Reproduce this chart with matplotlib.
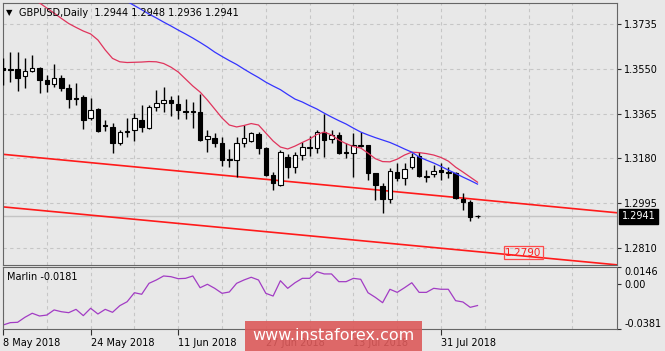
import numpy as np
import matplotlib
matplotlib.use("Agg")
import matplotlib.pyplot as plt
import matplotlib.transforms as mtransforms
from matplotlib.patches import Rectangle

plt.rcParams['font.family'] = ['DejaVu Sans']
plt.rcParams['font.size'] = 7

# GBPUSD daily bars, 8 May 2018 .. 7 Aug 2018
opens = [1.3553, 1.3548, 1.3548, 1.3520, 1.3542, 1.3555, 1.3504, 1.3486, 1.3513, 1.3469,
         1.3429, 1.3434, 1.3346, 1.3384, 1.3316, 1.3310, 1.3244, 1.3289, 1.3297, 1.3339,
         1.3304, 1.3392, 1.3410, 1.3423, 1.3403, 1.3376, 1.3374, 1.3373, 1.3259, 1.3263,
         1.3245, 1.3176, 1.3173, 1.3242, 1.3253, 1.3279, 1.3222, 1.3111, 1.3070, 1.3184,
         1.3146, 1.3194, 1.3226, 1.3222, 1.3288, 1.3259, 1.3277, 1.3205, 1.3201, 1.3233,
         1.3235, 1.3118, 1.3066, 1.3014, 1.3125, 1.3098, 1.3144, 1.3190, 1.3103, 1.3116,
         1.3132, 1.3125, 1.3118, 1.3012, 1.3001, 1.2944]
highs = [1.3595, 1.3619, 1.3619, 1.3595, 1.3607, 1.3559, 1.3524, 1.3569, 1.3524, 1.3486,
         1.3490, 1.3442, 1.3431, 1.3389, 1.3339, 1.3325, 1.3297, 1.3347, 1.3366, 1.3400,
         1.3400, 1.3462, 1.3473, 1.3438, 1.3440, 1.3425, 1.3414, 1.3446, 1.3297, 1.3284,
         1.3270, 1.3217, 1.3270, 1.3316, 1.3290, 1.3290, 1.3227, 1.3124, 1.3215, 1.3198,
         1.3206, 1.3249, 1.3274, 1.3297, 1.3365, 1.3297, 1.3289, 1.3242, 1.3285, 1.3290,
         1.3237, 1.3120, 1.3080, 1.3139, 1.3160, 1.3160, 1.3204, 1.3208, 1.3132, 1.3153,
         1.3160, 1.3146, 1.3125, 1.3038, 1.3008, 1.2948]
lows = [1.3483, 1.3495, 1.3458, 1.3471, 1.3537, 1.3451, 1.3455, 1.3476, 1.3458, 1.3389,
        1.3400, 1.3301, 1.3339, 1.3290, 1.3293, 1.3201, 1.3235, 1.3268, 1.3250, 1.3290,
        1.3300, 1.3376, 1.3373, 1.3355, 1.3343, 1.3343, 1.3304, 1.3254, 1.3208, 1.3227,
        1.3149, 1.3146, 1.3104, 1.3228, 1.3249, 1.3198, 1.3109, 1.3049, 1.3066, 1.3099,
        1.3118, 1.3172, 1.3190, 1.3202, 1.3187, 1.3242, 1.3197, 1.3180, 1.3102, 1.3228,
        1.3091, 1.3008, 1.2956, 1.2996, 1.3085, 1.3070, 1.3136, 1.3104, 1.3084, 1.3104,
        1.3091, 1.3098, 1.3014, 1.2967, 1.2923, 1.2936]
closes = [1.3547, 1.3545, 1.3513, 1.3541, 1.3555, 1.3504, 1.3486, 1.3513, 1.3472, 1.3425,
          1.3425, 1.3339, 1.3380, 1.3293, 1.3312, 1.3244, 1.3289, 1.3292, 1.3347, 1.3311,
          1.3392, 1.3410, 1.3423, 1.3407, 1.3380, 1.3372, 1.3370, 1.3256, 1.3274, 1.3245,
          1.3173, 1.3172, 1.3242, 1.3263, 1.3284, 1.3223, 1.3111, 1.3080, 1.3208, 1.3143,
          1.3194, 1.3229, 1.3222, 1.3288, 1.3257, 1.3277, 1.3201, 1.3202, 1.3235, 1.3237,
          1.3118, 1.3070, 1.3012, 1.3129, 1.3099, 1.3138, 1.3187, 1.3107, 1.3106, 1.3129,
          1.3123, 1.3118, 1.3015, 1.3001, 1.2939, 1.2941]

# moving averages (red one for every bar, blue one from bar 16)
red_ma = [1.3925, 1.3904, 1.3884, 1.3863, 1.3842, 1.3822, 1.3801, 1.3780, 1.3758, 1.3737,
          1.3721, 1.3706, 1.3694, 1.3669, 1.3628, 1.3593, 1.3579, 1.3576, 1.3577, 1.3578,
          1.3580, 1.3579, 1.3572, 1.3557, 1.3537, 1.3508, 1.3479, 1.3454, 1.3421, 1.3384,
          1.3347, 1.3318, 1.3310, 1.3316, 1.3324, 1.3318, 1.3285, 1.3252, 1.3227, 1.3219,
          1.3231, 1.3246, 1.3260, 1.3279, 1.3289, 1.3277, 1.3256, 1.3241, 1.3229, 1.3223,
          1.3202, 1.3179, 1.3167, 1.3166, 1.3177, 1.3194, 1.3206, 1.3204, 1.3200, 1.3194,
          1.3184, 1.3169, 1.3144, 1.3124, 1.3103, 1.3082]
blue_start = 16
blue_ma = [1.3847, 1.3828, 1.3811, 1.3794, 1.3776, 1.3760, 1.3743, 1.3727, 1.3710, 1.3694,
           1.3677, 1.3659, 1.3640, 1.3619, 1.3601, 1.3584, 1.3568, 1.3549, 1.3531, 1.3514,
           1.3495, 1.3479, 1.3464, 1.3444, 1.3425, 1.3413, 1.3398, 1.3384, 1.3367, 1.3351,
           1.3336, 1.3322, 1.3305, 1.3289, 1.3277, 1.3266, 1.3256, 1.3246, 1.3233, 1.3219,
           1.3206, 1.3186, 1.3173, 1.3161, 1.3147, 1.3132, 1.3118, 1.3103, 1.3089, 1.3074]

marlin = [-0.0345, -0.0325, -0.0322, -0.0280, -0.0246, -0.0269, -0.0261, -0.0218, -0.0233, -0.0241,
          -0.0213, -0.0266, -0.0204, -0.0252, -0.0213, -0.0238, -0.0182, -0.0149, -0.0073, -0.0086,
          0.0006, 0.0034, 0.0068, 0.0062, 0.0045, 0.0048, 0.0068, -0.0031, -0.0002, -0.0036,
          -0.0078, -0.0067, 0.0006, 0.0034, 0.0057, 0.0034, -0.0078, -0.0101, 0.0028, -0.0036,
          0.0011, 0.0048, 0.0048, 0.0104, 0.0085, 0.0085, 0.0020, 0.0020, 0.0048, 0.0040,
          -0.0073, -0.0112, -0.0157, -0.0044, -0.0070, -0.0031, 0.0011, -0.0070, -0.0070, -0.0036,
          -0.0044, -0.0044, -0.0140, -0.0151, -0.0196, -0.0181]

date_labels = ['8 May 2018', '24 May 2018', '11 Jun 2018', '27 Jun 2018', '13 Jul 2018', '31 Jul 2018']
price_ticks = [1.2810, 1.2995, 1.3180, 1.3365, 1.3550, 1.3735]
marlin_ticks = [-0.0381, 0.0, 0.0146]
marlin_tick_labels = ['-0.0381', '0.00', '0.0146']

# channel lines, two anchors each (bar, price)
upper_line = [(0, 1.3197), (84, 1.2956)]
lower_line = [(0, 1.2980), (84, 1.2741)]
last_price = 1.2941
level_price = 1.2790
title = 'GBPUSD,Daily  1.2944 1.2948 1.2936 1.2941'

bg = '#e8e8e8'
grid_kw = dict(color='#c6c6c6', linestyle=(0, (3, 3)), linewidth=0.8)
W, H = 665, 351

fig = plt.figure(figsize=(W / 100, H / 100), dpi=100, facecolor=bg)
ax = fig.add_axes([2.5 / W, 86 / H, 614.8 / W, 262.3 / H], facecolor=bg)
ax2 = fig.add_axes([2.5 / W, 21.7 / H, 614.8 / W, 62.6 / H], facecolor=bg)

n = len(opens)
x = np.arange(n)
o, h, l, c = map(np.array, (opens, highs, lows, closes))
up = c >= o

# candles
ax.vlines(x, l, h, color='black', lw=1, zorder=3)
ax.bar(x[up], (c - o)[up], bottom=o[up], width=0.62, facecolor='white',
       edgecolor='black', lw=0.8, zorder=4)
ax.bar(x[~up], (o - c)[~up], bottom=c[~up], width=0.62, facecolor='black',
       edgecolor='black', lw=0.8, zorder=4)

ax.plot(x, red_ma, color='#e0345c', lw=0.9, zorder=5)
ax.plot(x[blue_start:], blue_ma, color='#3434ff', lw=0.9, zorder=5)

ax.axline(upper_line[0], upper_line[1], color='#ff1a1a', lw=1.2, zorder=2)
ax.axline(lower_line[0], lower_line[1], color='#ff1a1a', lw=1.2, zorder=2)
ax.axhline(last_price, color='#c4c4c4', lw=1, zorder=1)

ax.text(68.8, level_price, f'{level_price:.4f}', color='#ff2020', fontsize=7.5,
        va='center', ha='left', zorder=6,
        bbox=dict(boxstyle='square,pad=0.15', facecolor='none', edgecolor='#ff4a4a', lw=0.9))

ax.set_xlim(-0.07, 84.15)
ax.set_ylim(1.2740, 1.3823)
ax.set_xticks(np.arange(6, 84, 6))
ax.tick_params(axis='x', length=0, labelbottom=False)
ax.yaxis.tick_right()
ax.set_yticks(price_ticks)
ax.set_yticklabels([f'{p:.4f}' for p in price_ticks])
ax.tick_params(axis='y', length=3, pad=2, width=0.8, color='#303030')
ax.grid(True, **grid_kw)
ax.set_axisbelow(True)

trans = mtransforms.blended_transform_factory(ax.transAxes, ax.transData)
ax.text(1 + 4.5 / 614.8, last_price, f'{last_price:.4f}', transform=trans, color='white',
        ha='left', va='center', clip_on=False, zorder=7,
        bbox=dict(boxstyle='square,pad=0.25', facecolor='black', edgecolor='black'))

# indicator window
ax2.plot(x, marlin, color='#a23cc4', lw=0.9)
ax2.set_xlim(-0.07, 84.15)
ax2.set_ylim(-0.0381, 0.0146)
ax2.set_xticks(np.arange(0, 61, 12))
ax2.set_xticklabels(date_labels)
for lbl in ax2.get_xticklabels():
    lbl.set_ha('left')
ax2.set_xticks(np.arange(6, 84, 12), minor=True)
ax2.tick_params(axis='x', which='major', length=4, pad=2, width=0.8, color='#303030')
ax2.tick_params(axis='x', which='minor', length=0)
ax2.yaxis.tick_right()
ax2.set_yticks(marlin_ticks)
ax2.set_yticklabels(marlin_tick_labels)
ax2.tick_params(axis='y', length=3, pad=2, width=0.8, color='#303030')
ylbls = ax2.get_yticklabels()
ylbls[0].set_va('bottom')
ylbls[2].set_va('top')
ax2.grid(True, which='both', axis='x', **grid_kw)
ax2.set_axisbelow(True)
ax2.text(0.008, 0.84, 'Marlin -0.0181', transform=ax2.transAxes, va='center', ha='left')

for a in (ax, ax2):
    for s in a.spines.values():
        s.set_color('#666666')
        s.set_linewidth(0.8)

fig.text(6 / W, 1 - 12.5 / H, '\u25bc', fontsize=6, va='center', ha='left')
fig.text(19 / W, 1 - 12.5 / H, title, va='center', ha='left')

# watermark
fig.patches.append(Rectangle((245 / W, 0), 177 / W, 30.3 / H, transform=fig.transFigure,
                             facecolor='#dc5a5a', edgecolor='none', alpha=0.9, zorder=5))
fig.text(333.5 / W, 15 / H, 'www.instaforex.com', color='white', fontsize=11.5,
         ha='center', va='center', zorder=6)

fig.savefig('out.png', dpi=100, facecolor=bg)
